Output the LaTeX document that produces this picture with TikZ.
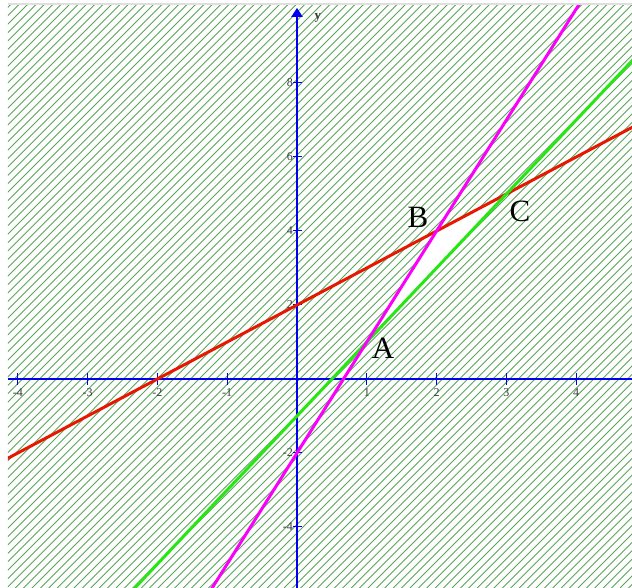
\documentclass[tikz,border=0pt]{standalone}
\usepackage{fontspec}
\setmainfont{Liberation Serif}
\usetikzlibrary{arrows.meta}
\definecolor{hatchgreen}{RGB}{90,165,90}
\definecolor{axisblue}{RGB}{0,0,240}
\definecolor{lred}{RGB}{230,25,0}
\definecolor{lgreen}{RGB}{40,230,20}
\definecolor{lmag}{RGB}{250,0,250}
\definecolor{ticklab}{RGB}{60,60,60}
\tikzset{
  hatch/.style={draw=hatchgreen, line width=0.9pt},
  axis/.style={draw=axisblue, line width=2pt},
  tick/.style={draw=axisblue, line width=1pt},
  ticklabel/.style={font=\fontsize{12}{14}\selectfont, text=ticklab, inner sep=0pt},
  graph/.style={line width=3pt},
  pointlabel/.style={font=\fontsize{31}{34}\selectfont, inner sep=0pt}
}
\begin{document}
\begin{tikzpicture}[x=69.8pt,y=37pt]
\useasboundingbox (-4.2550,-5.6486) rectangle (4.7994,10.2432);
% hatched background
\begin{scope}[x=1pt,y=1pt]
  \clip (-289,-209) rectangle (335,373);
  \foreach \c in {-700,-691.6,...,720}
    \draw[hatch] (-300,-300+\c) -- (340,340+\c);
\end{scope}
\begin{scope}[x=1pt,y=1pt]
  \draw[gray!25, line width=2pt] (-289,375) -- (335,375);
\end{scope}
% unhatched triangle ABC
\coordinate (A) at (1,1);
\coordinate (B) at (2,4);
\coordinate (C) at (3,5);
\fill[white] (A) -- (B) -- (C) -- cycle;
% axes
\coordinate (xl) at (-4.1404,0);
\coordinate (xr) at (4.7994,0);
\coordinate (yb) at (0,-5.6486);
\coordinate (yt) at (0,10.03);
\draw[axis] (xl) -- (xr);
\draw[axis, -{Triangle[length=9pt,width=11pt]}] (yb) -- (yt);
\node[font=\fontsize{13}{14}\selectfont\bfseries, text=ticklab, inner sep=0pt] (ylab) at (0.30,9.75) {y};
% ticks
\foreach \x in {-4,-3,-2,-1,1,2,3,4} {
  \draw[tick] (\x,0) ++(0,-6pt) -- ++(0,12pt);
  \node[ticklabel] (xt\x) at ([yshift=-14pt]\x,0) {\x};
}
\foreach \y in {-4,-2,2,4,6,8} {
  \draw[tick] (0,\y) ++(-4pt,0) -- ++(9pt,0);
  \node[ticklabel, anchor=east] (yt\y) at ([xshift=-4pt]0,\y) {\y};
}
% lines
\begin{scope}
  \clip (-4.1404,-5.6486) rectangle (4.7994,10.081);
  \draw[graph, lred] (-4.3,-2.3) -- (4.9,6.9);
  \draw[graph, lgreen] (-2.5,-6) -- (5.7,10.4);
  \draw[graph, lmag] (-1.4,-6.2) -- (4.2,10.6);
\end{scope}
% point labels
\node[pointlabel] (lA) at (1.232,0.84) {A};
\node[pointlabel] (lB) at (1.733,4.38) {B};
\node[pointlabel] (lC) at (3.195,4.54) {C};
\end{tikzpicture}
\end{document}
